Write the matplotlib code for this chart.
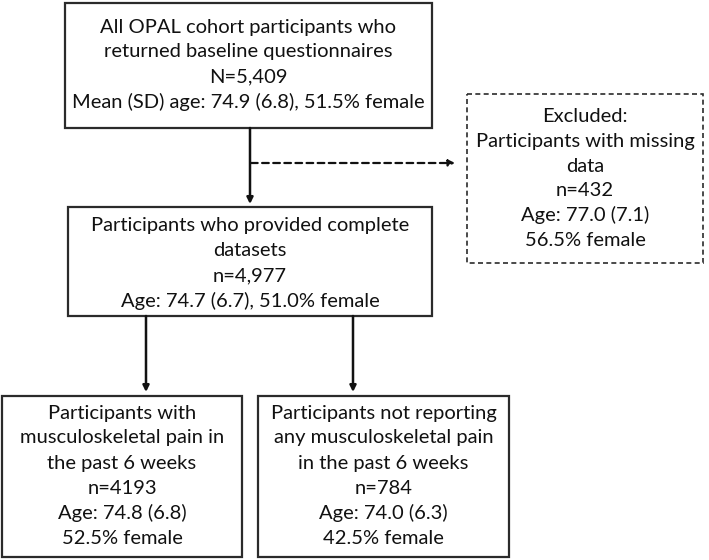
import matplotlib
matplotlib.use('Agg')
import matplotlib.pyplot as plt
from matplotlib.patches import Rectangle

# box texts
all_text = ["All OPAL cohort participants who", "returned baseline questionnaires",
            "N=5,409", "Mean (SD) age: 74.9 (6.8), 51.5% female"]
excl_text = ["Excluded:", "Participants with missing", "data", "n=432",
             "Age: 77.0 (7.1)", "56.5% female"]
complete_text = ["Participants who provided complete", "datasets", "n=4,977",
                 "Age: 74.7 (6.7), 51.0% female"]
pain_text = ["Participants with", "musculoskeletal pain in", "the past 6 weeks",
             "n=4193", "Age: 74.8 (6.8)", "52.5% female"]
nopain_text = ["Participants not reporting", "any musculoskeletal pain",
               "in the past 6 weeks", "n=784", "Age: 74.0 (6.3)", "42.5% female"]

# layout in pixels (x0, y0, x1, y1), y downwards
layout = {
    'all': (65, 3, 432, 128),
    'excl': (467, 94, 703, 263),
    'complete': (68, 207, 432, 316),
    'pain': (2, 396, 242, 557),
    'nopain': (258, 396, 509, 557),
}
texts = {'all': all_text, 'excl': excl_text, 'complete': complete_text,
         'pain': pain_text, 'nopain': nopain_text}
first_line = {'all': 27, 'excl': 117, 'complete': 225, 'pain': 413, 'nopain': 413}
spacing = {'all': 25, 'excl': 24.6, 'complete': 25.3, 'pain': 25, 'nopain': 25}

fig = plt.figure(figsize=(7.09, 5.6), dpi=100)
ax = fig.add_axes([0, 0, 1, 1])
ax.set_xlim(0, 709)
ax.set_ylim(560, 0)
ax.axis('off')

edge = '#2b2b2b'
for k, (x0, y0, x1, y1) in layout.items():
    ls = (0, (3, 2)) if k == 'excl' else '-'
    lw = 1.2 if k == 'excl' else 1.6
    ax.add_patch(Rectangle((x0, y0), x1 - x0, y1 - y0, fill=False,
                           edgecolor=edge, lw=lw, linestyle=ls))
    cx = (x0 + x1) / 2
    for i, t in enumerate(texts[k]):
        ax.text(cx, first_line[k] + i * spacing[k], t, ha='center', va='center',
                fontsize=14.5, family='Lato', color='#111111')

arrow = dict(arrowstyle='-|>', color='#111111', lw=1.8, mutation_scale=9,
             shrinkA=0, shrinkB=0)
ax.annotate('', xy=(250, 204), xytext=(250, 128), arrowprops=arrow)
ax.annotate('', xy=(146, 392), xytext=(146, 316), arrowprops=arrow)
ax.annotate('', xy=(353, 392), xytext=(353, 316), arrowprops=arrow)
dash = dict(arrow, linestyle=(0, (3, 2)), lw=1.6)
ax.annotate('', xy=(455, 163), xytext=(251, 163), arrowprops=dash)

fig.savefig('out.png', dpi=100)
